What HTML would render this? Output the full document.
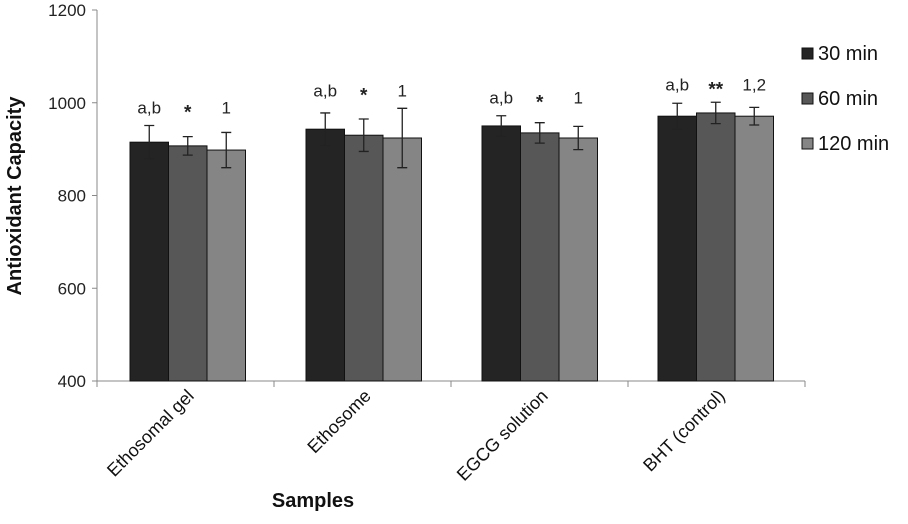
<!DOCTYPE html>
<html><head><meta charset="utf-8"><style>
body{margin:0;background:#fff;font-family:"Liberation Sans",Arial,sans-serif}
svg text{font-family:"Liberation Sans",Arial,sans-serif}
</style></head><body>
<svg id="chart" width="908" height="519" xmlns="http://www.w3.org/2000/svg"></svg>
<script>
const categories=["Ethosomal gel","Ethosome","EGCG solution","BHT (control)"];
const seriesNames=["30 min","60 min","120 min"];
const values30=[915,943,950,971];
const values60=[907,930,935,978];
const values120=[898,924,924,971];
const err30=[36,35,22,28];
const err60=[20,35,22,23];
const err120=[38,64,25,19];
const labels30=["a,b","a,b","a,b","a,b"];
const labels60=["*","*","*","**"];
const labels120=["1","1","1","1,2"];
const yTicks=[400,600,800,1000,1200];
const colors=["#242424","#575757","#858585"];
const svg=document.getElementById('chart');
const NS="http://www.w3.org/2000/svg";
const x0=97,x1=805,yTop=10,yBot=381,yMin=400,yMax=1200;
const band=176,barW=38.5,offset=33;
const y=v=>yBot-(v-yMin)/(yMax-yMin)*(yBot-yTop);
const xb=(i,s)=>x0+offset+i*band+s*barW;
function mk(t,a,txt){const e=document.createElementNS(NS,t);for(const k in a)e.setAttribute(k,a[k]);if(txt!==undefined)e.textContent=txt;svg.appendChild(e);return e;}
let e=mk('line',{x1:x0,y1:yTop,x2:x0,y2:yBot,stroke:'#888','stroke-width':1});

e=mk('line',{x1:x0,y1:yBot,x2:x1,y2:yBot,stroke:'#888','stroke-width':1});

yTicks.forEach(t=>{
 e=mk('line',{x1:x0-5,y1:y(t),x2:x0,y2:y(t),stroke:'#888'});
 
 e=mk('text',{x:x0-11,y:y(t)+6,'text-anchor':'end','font-size':17,fill:'#222'},t);
 
});
for(let i=0;i<=4;i++){
 e=mk('line',{x1:x0+i*177,y1:yBot,x2:x0+i*177,y2:yBot+6,stroke:'#888'});
 
}
const vals=[values30,values60,values120],errs=[err30,err60,err120],labs=[labels30,labels60,labels120];
categories.forEach((c,i)=>{
 let top=1e9;
 for(let s=0;s<3;s++) top=Math.min(top,y(vals[s][i]+errs[s][i]));
 for(let s=0;s<3;s++){
  const v=vals[s][i],er=errs[s][i],xx=xb(i,s);
  e=mk('rect',{x:xx,y:y(v),width:barW,height:yBot-y(v),fill:colors[s],stroke:'#111','stroke-width':1});
  
  const cx=xx+barW/2;
  e=mk('path',{d:`M${cx},${y(v+er)}V${y(v-er)}M${cx-5},${y(v+er)}H${cx+5}M${cx-5},${y(v-er)}H${cx+5}`,stroke:'#222','stroke-width':1.3,fill:'none'});
  
  const l=labs[s][i];
  const star=l.indexOf('*')>=0;
  e=mk('text',{x:cx,y:top-12+(star?5:0),'text-anchor':'middle','font-size':star?19:17,'font-weight':star?'bold':'normal',fill:'#222'},l);
  
 }
 const tx=x0+i*177+98,ty=yBot+16;
 e=mk('text',{x:tx,y:ty,'text-anchor':'end','font-size':18,fill:'#111',transform:`rotate(-45 ${tx} ${ty})`},c);
 
});
e=mk('text',{x:313,y:507,'text-anchor':'middle','font-size':20,'font-weight':'bold',fill:'#111'},'Samples');

e=mk('text',{x:21,y:196,'text-anchor':'middle','font-size':20,'font-weight':'bold',fill:'#111',transform:'rotate(-90 21 196)'},'Antioxidant Capacity');

seriesNames.forEach((n,s)=>{
 const ly=53+s*45;
 e=mk('rect',{x:802,y:ly-5,width:11,height:11,fill:colors[s],stroke:'#111','stroke-width':1});
 
 e=mk('text',{x:818,y:ly+7,'font-size':20,fill:'#111'},n);
 
});
</script>
</body></html>
